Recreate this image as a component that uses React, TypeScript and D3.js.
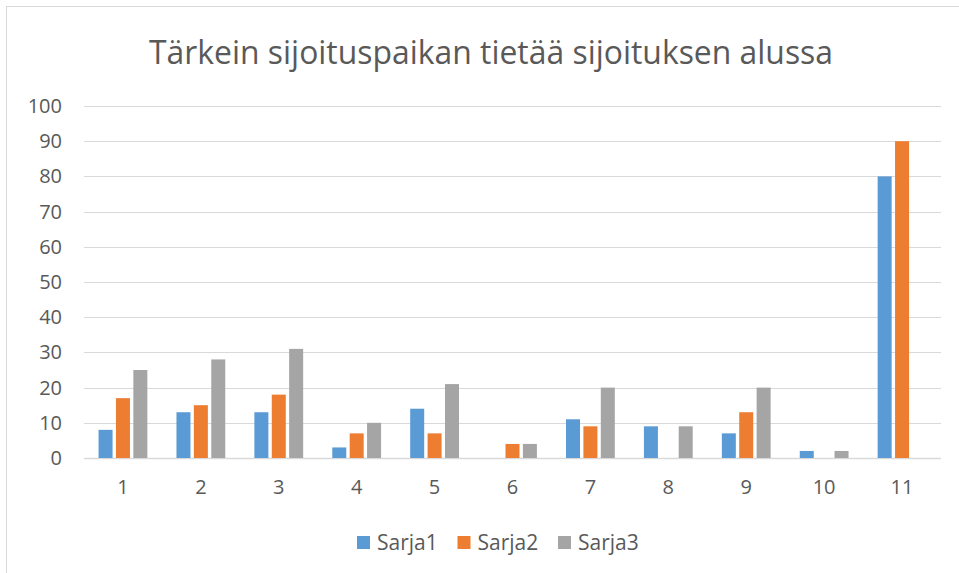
import React from "react";
import * as d3 from "d3";

const width = 959;
const height = 573;

const categories = ["1", "2", "3", "4", "5", "6", "7", "8", "9", "10", "11"];
const seriesNames = ["Sarja1", "Sarja2", "Sarja3"];
const sarja1 = [8, 13, 13, 3, 14, 0, 11, 9, 7, 2, 80];
const sarja2 = [17, 15, 18, 7, 7, 4, 9, 0, 13, 0, 90];
const sarja3 = [25, 28, 31, 10, 21, 4, 20, 9, 20, 2, 0];
const yTicks = [0, 10, 20, 30, 40, 50, 60, 70, 80, 90, 100];
const colors = ["#5b9bd5", "#ed7d31", "#a5a5a5"];

const title = "Tärkein sijoituspaikan tietää sijoituksen alussa";
const font = "'Open Sans', 'Noto Sans', sans-serif";

const App = () => {
  const seriesValues = [sarja1, sarja2, sarja3];

  const x = d3.scaleBand().domain(categories).range([84, 941]).padding(0);
  // bars inside one category
  const x1 = d3
    .scaleBand()
    .domain(seriesNames)
    .range([-24.4, 24.4])
    .paddingInner(0.195);
  const y = d3.scaleLinear().domain([0, 100]).range([458, 106]);
  const color = d3.scaleOrdinal<string, string>().domain(seriesNames).range(colors);

  const bars = categories.flatMap((c, i) =>
    seriesNames.map((s, j) => ({ cat: c, series: s, value: seriesValues[j][i] }))
  );

  return (
    <div style={{ position: "absolute", left: 0, top: 0 }}>
      <svg width={width} height={height} style={{ display: "block", fontFamily: font }}>
        <rect x={0} y={0} width={width} height={height} fill="white" />
        <rect x={6.5} y={6.5} width={1000} height={1000} fill="white" stroke="#d9d9d9" />

        <text
          x={491}
          y={64}
          textAnchor="middle"
          fontSize={32}
          fill="#595959"
          textLength={684}
          lengthAdjust="spacingAndGlyphs"
        >
          {title}
        </text>

        {yTicks.map((t) => (
          <g key={t}>
            <line
              x1={84}
              x2={941}
              y1={Math.round(y(t)) + 0.5}
              y2={Math.round(y(t)) + 0.5}
              stroke="#d9d9d9"
              strokeWidth={t === 0 ? 1.5 : 1}
            />
            <text
              x={62}
              y={y(t) + 7}
              textAnchor="end"
              fontSize={20}
              fill="#595959"
            >
              {t}
            </text>
          </g>
        ))}

        {bars.map((d) => (
          <rect
            key={d.cat + d.series}
            x={x(d.cat)! + x.bandwidth() / 2 + x1(d.series)!}
            y={y(d.value)}
            width={x1.bandwidth()}
            height={y(0) - y(d.value)}
            fill={color(d.series)}
          />
        ))}

        {categories.map((c) => (
          <text
            key={c}
            x={x(c)! + x.bandwidth() / 2}
            y={494}
            textAnchor="middle"
            fontSize={20}
            fill="#595959"
          >
            {c}
          </text>
        ))}

        {seriesNames.map((s, i) => (
          <g key={s} transform={`translate(${357 + i * 100.5},536)`}>
            <rect x={0} y={0} width={13} height={13} fill={color(s)} />
            <text x={20} y={13.5} fontSize={21} fill="#595959">
              {s}
            </text>
          </g>
        ))}
      </svg>
    </div>
  );
};

export default App;
